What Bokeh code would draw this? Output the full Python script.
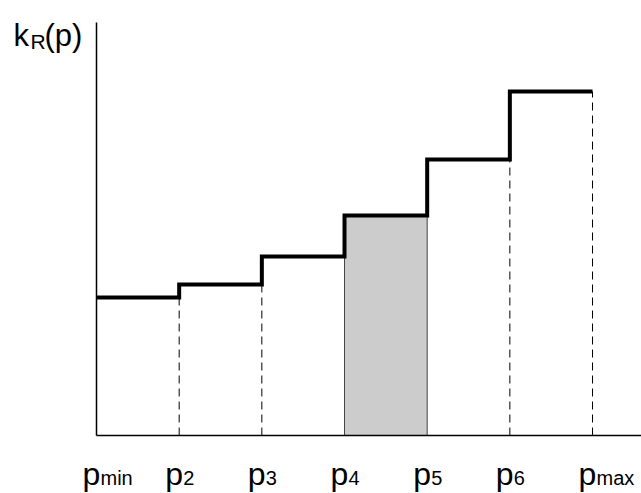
from bokeh.plotting import figure
from bokeh.models import Range1d
from bokeh.core.properties import value
from bokeh.embed import file_html
from bokeh.resources import INLINE

# ---- data ----
x_positions = [0, 1, 2, 3, 4, 5, 6]
label_main = ["p", "p", "p", "p", "p", "p", "p"]
label_sub = ["min", "2", "3", "4", "5", "6", "max"]
levels = [1.38, 1.51, 1.79, 2.20, 2.76, 3.44]   # k_R(p) on each interval
shaded_interval = 3                              # p4 .. p5
dashed_at = [1, 2, 5, 6]                         # p2, p3, p6, pmax
y_axis_top = 4.13
y_label = ("k", "R", "(p)")

FONT = value("Liberation Sans")

p = figure(width=641, height=493, output_backend="svg", toolbar_location=None,
           x_axis_location=None, y_axis_location=None, title=None,
           x_range=Range1d(-1.1613, 6.5925), y_range=Range1d(-0.58, 4.35))
p.min_border = 0
p.min_border_left = p.min_border_right = p.min_border_top = p.min_border_bottom = 0
p.outline_line_color = None
p.xgrid.visible = False
p.ygrid.visible = False
p.background_fill_color = "white"
p.border_fill_color = "white"

# shaded interval
i = shaded_interval
p.quad(left=[x_positions[i]], right=[x_positions[i + 1]], bottom=[0], top=[levels[i]],
       fill_color="#cccccc", line_color="#444444", line_width=1)

# dashed verticals
xs, ytops = [], []
for k in dashed_at:
    xs.append(x_positions[k])
    if k < len(levels):
        ytops.append(min(levels[k - 1], levels[k]))
    else:
        ytops.append(levels[k - 1])
p.segment(x0=xs, y0=[0] * len(xs), x1=xs, y1=ytops, line_color="black",
          line_width=1, line_dash="8 5")

# axes lines
p.segment(x0=[0, 0], y0=[0, 0], x1=[0, 6.6], y1=[y_axis_top, 0],
          line_color="black", line_width=1.5)

# step function
p.step(x=x_positions, y=levels + [levels[-1]], mode="after", line_color="black",
       line_width=4, line_join="miter")

# x labels
n = len(x_positions)
p.text(x=x_positions, y=[-0.38] * n, text=label_main, text_font=FONT,
       text_font_size="32px", text_align="left", text_baseline="alphabetic",
       x_offset=-14, text_color="black")
p.text(x=x_positions, y=[-0.425] * n, text=label_sub, text_font=FONT,
       text_font_size="20px", text_align="left", text_baseline="alphabetic",
       x_offset=4, text_color="black")

# y label k_R(p)
p.text(x=[0], y=[4.00], text=[y_label[0]], text_font=FONT, text_font_size="31px",
       text_align="left", text_baseline="alphabetic", x_offset=-83, text_color="black")
p.text(x=[0], y=[3.94], text=[y_label[1]], text_font=FONT, text_font_size="21px",
       text_align="left", text_baseline="alphabetic", x_offset=-66, text_color="black")
p.text(x=[0], y=[4.00], text=[y_label[2]], text_font=FONT, text_font_size="31px",
       text_align="left", text_baseline="alphabetic", x_offset=-52, text_color="black")

open("out.html", "w").write(file_html(p, INLINE))
